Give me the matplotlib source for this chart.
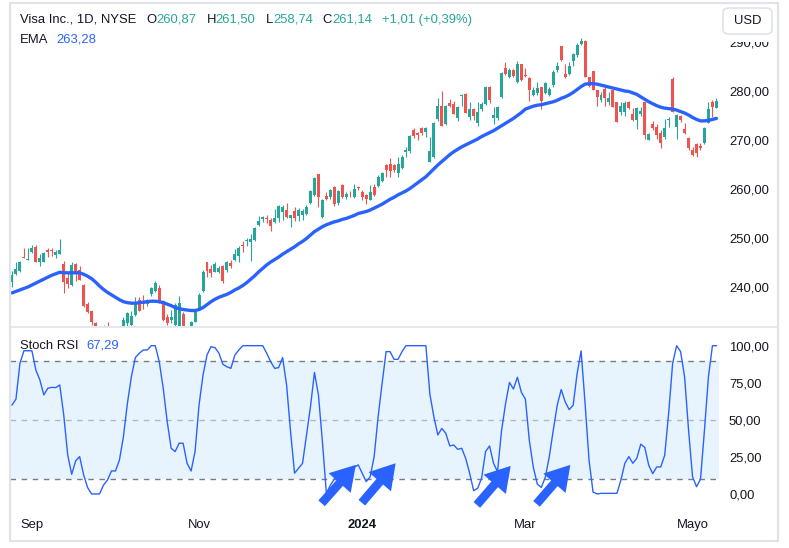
import matplotlib
matplotlib.use("Agg")
import matplotlib.pyplot as plt
from matplotlib.lines import Line2D
from matplotlib.patches import FancyArrowPatch, FancyBboxPatch, Rectangle
from matplotlib.ticker import FuncFormatter

plt.rcParams['font.family'] = ['Liberation Sans', 'DejaVu Sans']

# Visa daily candles, 2023-08-25 .. 2024-05-09 (trading-day index)
opens = [
    241.1, 242.6, 243.2, 246.2, 245.6, 247.2, 248.2, 245.0, 245.2, 247.6,
    247.5, 246.5, 246.8, 244.6, 241.8, 240.4, 244.6, 243.5, 240.5, 236.5,
    235.1, 232.6, 230.5, 229.5, 232.0, 230.3, 229.0, 229.8, 231.9, 232.6,
    232.2, 234.3, 237.3, 236.9, 236.5, 238.6, 239.2, 239.7, 237.2, 233.9,
    233.3, 232.2, 231.9, 234.4, 231.8, 231.9, 232.9, 235.6, 239.2, 245.0,
    243.6, 243.1, 243.0, 244.2, 243.5, 244.8, 245.5, 246.3, 248.6, 249.3,
    249.2, 249.6, 252.7, 253.9, 254.1, 253.7, 253.3, 254.0, 255.4, 255.7,
    254.0, 255.5, 254.5, 254.7, 254.8, 257.1, 258.8, 263.1, 254.2, 258.6,
    258.3, 260.5, 257.1, 260.8, 258.3, 259.0, 258.3, 260.4, 259.4, 258.8,
    257.8, 260.5, 260.6, 261.7, 264.9, 265.2, 264.9, 263.2, 264.2, 267.6,
    267.8, 272.0, 271.5, 272.5, 271.7, 265.6, 266.6, 274.2, 276.9, 273.2,
    277.6, 277.3, 274.4, 279.0, 279.4, 274.6, 276.3, 273.5, 276.3, 277.3,
    280.9, 274.4, 274.4, 278.8, 284.6, 282.8, 284.2, 281.9, 285.5, 283.2,
    282.7, 279.2, 279.5, 280.9, 279.5, 279.2, 281.2, 284.3, 289.1, 283.4,
    283.5, 286.2, 287.4, 289.6, 290.3, 282.9, 284.1, 280.2, 278.2, 280.5,
    277.8, 280.3, 277.8, 275.8, 275.8, 277.8, 275.4, 274.1, 275.3, 277.8,
    270.1, 273.3, 272.7, 271.5, 270.7, 274.0, 282.4, 272.7, 274.9, 272.2,
    270.5, 268.0, 269.2, 268.8, 269.3, 273.5, 277.8, 276.5,
]
highs = [
    243.3, 245.0, 245.4, 247.9, 247.9, 248.6, 248.6, 246.8, 247.2, 247.9,
    248.0, 247.5, 249.8, 245.3, 242.8, 245.0, 244.9, 244.2, 240.6, 237.0,
    235.2, 232.9, 231.4, 232.2, 232.8, 231.0, 231.2, 231.8, 233.8, 234.8,
    235.0, 237.9, 238.0, 238.3, 237.6, 240.1, 241.3, 240.4, 237.4, 234.5,
    235.3, 236.7, 238.2, 234.8, 232.0, 233.1, 235.3, 238.8, 243.5, 245.2,
    244.5, 245.0, 244.2, 244.5, 245.3, 245.5, 247.7, 248.4, 249.3, 250.0,
    250.8, 252.3, 254.4, 254.5, 254.7, 254.0, 255.9, 256.7, 256.7, 257.1,
    254.7, 256.4, 256.1, 255.9, 256.7, 259.7, 262.4, 263.1, 258.0, 259.3,
    260.1, 260.6, 259.7, 261.0, 259.3, 259.5, 261.0, 260.6, 259.7, 259.0,
    260.8, 261.1, 262.8, 263.5, 265.1, 266.3, 265.1, 266.6, 266.9, 268.6,
    271.0, 272.4, 271.7, 272.7, 272.6, 270.7, 273.6, 278.5, 279.9, 277.1,
    278.3, 278.0, 276.9, 279.4, 279.6, 277.8, 276.5, 277.8, 277.8, 281.1,
    281.0, 276.8, 276.9, 283.9, 286.0, 284.6, 284.4, 286.2, 285.6, 284.6,
    282.9, 280.9, 281.9, 280.9, 281.8, 280.9, 284.3, 286.0, 289.2, 285.6,
    285.9, 287.8, 289.7, 290.75, 290.4, 282.9, 284.1, 280.3, 279.7, 280.9,
    279.7, 280.5, 277.8, 277.8, 278.0, 278.0, 276.5, 276.7, 276.8, 277.8,
    271.5, 273.9, 273.3, 272.0, 274.2, 274.6, 282.9, 275.4, 275.1, 273.4,
    270.7, 268.5, 269.3, 269.3, 272.7, 277.8, 278.1, 278.5,
]
lows = [
    240.1, 242.5, 243.0, 245.9, 245.5, 246.9, 245.0, 244.2, 245.0, 246.1,
    246.3, 245.9, 246.7, 238.7, 239.7, 240.3, 241.2, 241.5, 236.0, 234.6,
    232.2, 229.8, 229.0, 229.1, 229.8, 228.5, 228.6, 229.4, 231.5, 232.0,
    231.9, 234.0, 235.0, 235.6, 236.1, 238.2, 239.0, 236.8, 233.1, 232.2,
    232.6, 231.9, 231.8, 231.5, 230.0, 231.5, 232.8, 235.4, 239.0, 242.1,
    242.0, 243.0, 242.8, 240.9, 243.1, 243.8, 245.3, 245.2, 247.2, 248.4,
    245.4, 249.4, 252.4, 253.3, 253.0, 251.5, 253.1, 253.3, 253.7, 254.0,
    252.2, 253.5, 253.5, 253.7, 254.7, 257.0, 258.6, 256.3, 254.0, 257.8,
    257.9, 256.6, 256.7, 258.1, 258.0, 258.4, 258.1, 259.8, 257.8, 257.0,
    257.8, 258.6, 260.4, 261.5, 262.5, 262.4, 263.5, 262.4, 264.0, 266.5,
    267.3, 270.5, 269.9, 271.0, 270.7, 265.6, 266.4, 273.9, 272.9, 273.0,
    276.7, 275.3, 273.9, 276.9, 275.6, 274.1, 274.1, 272.9, 276.0, 277.1,
    277.6, 273.3, 274.1, 278.6, 283.2, 282.6, 282.8, 281.7, 282.1, 282.8,
    278.0, 279.0, 279.2, 276.3, 279.3, 279.0, 280.9, 283.9, 286.2, 282.6,
    283.3, 285.1, 287.0, 289.4, 282.9, 280.9, 280.2, 277.0, 277.8, 276.9,
    277.1, 276.7, 273.7, 275.1, 274.9, 276.3, 273.9, 272.2, 274.9, 270.3,
    270.0, 272.1, 270.3, 268.3, 270.3, 272.7, 275.8, 270.3, 273.7, 271.2,
    268.0, 266.7, 266.5, 267.9, 269.2, 273.4, 274.6, 276.5,
]
closes = [
    242.4, 243.6, 245.2, 246.0, 245.8, 248.0, 245.0, 246.0, 246.9, 247.1,
    247.3, 247.1, 247.6, 241.1, 240.7, 244.5, 243.0, 241.5, 236.2, 234.8,
    232.9, 230.4, 229.6, 230.8, 230.2, 228.9, 229.9, 231.0, 233.3, 234.6,
    234.0, 236.7, 235.2, 236.5, 237.3, 239.7, 240.9, 237.0, 233.3, 232.7,
    233.9, 236.3, 236.7, 231.9, 230.6, 232.9, 235.0, 238.4, 243.1, 243.3,
    242.8, 244.7, 243.8, 241.3, 245.1, 244.3, 246.7, 248.0, 248.3, 249.5,
    249.7, 252.0, 253.5, 254.2, 253.8, 252.5, 254.0, 256.5, 256.4, 254.2,
    254.6, 254.0, 255.7, 255.5, 256.4, 259.5, 262.2, 258.4, 257.8, 257.9,
    259.8, 256.9, 259.5, 258.4, 259.0, 258.9, 260.1, 260.2, 258.4, 257.9,
    259.4, 258.8, 262.5, 263.3, 263.9, 263.7, 263.9, 265.1, 266.6, 267.9,
    270.8, 270.8, 271.0, 271.4, 272.4, 267.8, 273.4, 276.9, 272.9, 276.9,
    276.9, 275.4, 276.7, 279.2, 275.6, 276.3, 274.8, 275.8, 277.3, 280.9,
    278.2, 275.1, 276.8, 283.7, 283.4, 284.2, 283.0, 285.5, 282.3, 283.0,
    280.3, 280.3, 280.7, 278.0, 281.6, 280.5, 283.9, 285.1, 286.3, 282.9,
    285.0, 287.5, 289.4, 290.3, 282.9, 281.0, 280.2, 278.8, 279.2, 278.5,
    278.5, 276.8, 273.7, 276.9, 277.6, 276.5, 274.1, 276.5, 276.0, 271.0,
    271.2, 272.4, 271.0, 269.3, 272.4, 274.2, 275.8, 275.1, 274.1, 271.4,
    268.3, 266.9, 267.4, 268.3, 272.4, 276.3, 276.7, 278.0,
]
ema = [
    238.8, 239.1, 239.4, 239.7, 240.0, 240.4, 240.8, 241.2, 241.6, 242.0,
    242.4, 242.7, 243.0, 242.9, 242.9, 242.9, 242.9, 242.9, 242.6, 242.2,
    241.7, 241.0, 240.2, 239.5, 238.9, 238.4, 237.9, 237.4, 237.0, 236.8,
    236.7, 236.7, 236.8, 236.9, 237.0, 237.1, 237.1, 237.0, 236.8, 236.5,
    236.2, 235.8, 235.6, 235.4, 235.3, 235.2, 235.2, 235.4, 235.8, 236.4,
    237.0, 237.5, 237.9, 238.2, 238.5, 238.9, 239.4, 239.8, 240.3, 240.9,
    241.6, 242.3, 243.1, 243.8, 244.5, 245.1, 245.6, 246.1, 246.7, 247.2,
    247.7, 248.2, 248.8, 249.3, 249.9, 250.6, 251.3, 251.8, 252.3, 252.7,
    253.0, 253.3, 253.5, 253.8, 254.0, 254.3, 254.6, 255.0, 255.2, 255.4,
    255.7, 256.1, 256.5, 256.9, 257.4, 257.9, 258.3, 258.8, 259.2, 259.6,
    260.1, 260.7, 261.3, 261.9, 262.5, 263.3, 264.1, 264.9, 265.6, 266.3,
    267.0, 267.6, 268.1, 268.6, 269.0, 269.4, 269.8, 270.2, 270.7, 271.1,
    271.5, 271.9, 272.4, 272.9, 273.4, 273.9, 274.4, 275.0, 275.6, 276.3,
    276.6, 276.9, 277.1, 277.2, 277.4, 277.6, 277.8, 278.1, 278.5, 278.8,
    279.2, 279.7, 280.3, 280.9, 281.4, 281.5, 281.5, 281.4, 281.2, 281.0,
    280.8, 280.6, 280.4, 280.2, 280.0, 279.9, 279.6, 279.3, 278.8, 278.3,
    277.8, 277.4, 277.0, 276.7, 276.5, 276.4, 276.3, 276.1, 275.8, 275.5,
    275.1, 274.6, 274.2, 273.9, 273.9, 274.0, 274.2, 274.4,
]
stoch = [
    60.0, 64.0, 88.1, 96.6, 96.6, 96.6, 83.6, 76.9, 66.8, 71.3,
    71.9, 71.7, 73.5, 53.3, 26.3, 13.3, 22.3, 25.2, 12.9, 4.3,
    0.0, 0.0, 0.0, 6.0, 9.4, 15.5, 15.5, 22.9, 38.6, 61.1,
    79.1, 92.0, 94.9, 97.1, 97.1, 100.0, 100.0, 89.2, 71.3, 48.8,
    30.8, 28.6, 34.2, 34.2, 20.6, 15.5, 28.6, 60.0, 80.2, 93.7,
    99.3, 98.7, 94.9, 87.4, 85.8, 84.7, 93.7, 97.1, 100.0, 100.0,
    100.0, 100.0, 100.0, 100.0, 94.9, 89.2, 84.7, 85.2, 92.0, 73.5,
    41.9, 14.0, 17.3, 20.6, 39.8, 58.8, 82.0, 66.8, 35.3, 0.4,
    5.9, 10.0, 12.0, 13.0, 14.0, 16.0, 18.0, 19.6, 14.0, 8.3,
    11.6, 25.2, 52.1, 74.6, 96.0, 96.0, 90.8, 90.8, 96.0, 100.0,
    100.0, 100.0, 100.0, 100.0, 100.0, 67.3, 52.1, 39.8, 44.2, 40.9,
    32.4, 33.0, 30.1, 30.8, 24.0, 13.9, 2.2, 3.8, 10.6, 28.6,
    32.4, 20.7, 15.0, 42.5, 60.6, 75.2, 70.8, 78.7, 68.5, 64.0,
    35.9, 17.9, 6.6, 4.4, 11.2, 25.0, 42.9, 59.8, 70.4, 62.1,
    56.9, 59.8, 81.2, 96.5, 61.0, 22.6, 1.3, 0.0, 0.4, 0.4,
    0.4, 0.4, 0.4, 9.4, 20.7, 25.2, 20.7, 24.1, 33.6, 31.4,
    19.3, 13.7, 18.2, 18.2, 26.0, 54.4, 88.1, 100.0, 96.0, 79.1,
    43.1, 11.6, 4.9, 9.9, 43.1, 79.1, 100.0, 100.0,
]
# first trading day of each labelled month (index into the candles)
month_idx = [5, 47, 88, 129, 171]
month_lbl = ['Sep', 'Nov', '2024', 'Mar', 'Mayo']
# hand-drawn arrows on the Stoch RSI pane: (x0, y0, x1, y1)
arrows = [(77.8, -6.3, 86.4, 19.6), (87.9, -5.9, 96.4, 20.7),
          (116.8, -7.4, 125.3, 18.9), (131.8, -6.7, 140.3, 19.6)]

GREEN, RED, BLUE = '#26a69a', '#ef5350', '#2962ff'
DARK, GRID = '#131722', '#e0e3eb'
W, H = 789, 548
FS = 9.4


def fx(px):
    return px / W


def fy(py):
    return 1 - py / H


fig = plt.figure(figsize=(W / 100, H / 100), dpi=100)
xmin, xmax = -0.5, 177.65

# price pane
ax1 = fig.add_axes([fx(10), fy(326), (719 - 10) / W, (326 - 7) / H])
n = len(closes)
idx = list(range(n))
cols = [GREEN if c >= o else RED for o, c in zip(opens, closes)]
bottoms = [min(o, c) for o, c in zip(opens, closes)]
heights = [max(abs(c - o), 0.15) for o, c in zip(opens, closes)]
ax1.vlines(idx, lows, highs, colors=cols, lw=0.8)
ax1.bar(idx, heights, bottom=bottoms, width=0.75, color=cols, lw=0)
ax1.plot(idx, ema, color=BLUE, lw=2.4, solid_capstyle='round')
ax1.set_xlim(xmin, xmax)
ax1.set_ylim(232.04, 297.14)
ax1.set_yticks([240, 250, 260, 270, 280, 290])

# stoch rsi pane
ax2 = fig.add_axes([fx(10), fy(511), (719 - 10) / W, (511 - 327) / H])
ax2.fill_between([xmin, xmax], 10, 90, color='#2196f3', alpha=0.1, lw=0)
for lvl, a in [(90, 1.0), (50, 0.5), (10, 1.0)]:
    ax2.axhline(lvl, color='#787b86', lw=1, ls=(0, (4, 4)), alpha=a)
ax2.plot(idx, stoch, color=BLUE, lw=1.0)
ax2.set_xlim(xmin, xmax)
ax2.set_ylim(-11.5, 112.6)
ax2.set_yticks([0, 25, 50, 75, 100])
ax2.set_xticks(month_idx)
ax2.set_xticklabels(month_lbl)
ax2.get_xticklabels()[2].set_fontweight('bold')

for x0, y0, x1, y1 in arrows:
    ax2.add_patch(FancyArrowPatch((x0, y0), (x1, y1),
                                  arrowstyle='simple,head_length=1.4,head_width=1.7,tail_width=0.5',
                                  mutation_scale=12.5, color=BLUE, lw=0,
                                  shrinkA=0, shrinkB=0, zorder=5))

fmt = FuncFormatter(lambda v, pos: f'{v:.2f}'.replace('.', ','))
for ax in (ax1, ax2):
    for s in ax.spines.values():
        s.set_visible(False)
    ax.yaxis.tick_right()
    ax.yaxis.set_major_formatter(fmt)
    ax.tick_params(axis='y', length=0, pad=7.2, labelsize=FS, labelcolor=DARK)
    ax.tick_params(axis='x', length=0, pad=6, labelsize=FS, labelcolor=DARK)
ax1.tick_params(axis='x', labelbottom=False)

# frame and pane separator
fig.add_artist(Line2D([fx(10), fx(778)], [fy(326.5), fy(326.5)], color=GRID, lw=1.2))
fig.add_artist(Rectangle((fx(10), fy(541)), (778 - 10) / W, (541 - 3) / H,
                         fill=False, ec=GRID, lw=1.5))

# USD button over the top of the price scale (hides upper half of 290,00)
fig.add_artist(Rectangle((fx(721), fy(41.5)), (776 - 721) / W, 37 / H,
                         fc='white', ec='none', zorder=5))
fig.add_artist(FancyBboxPatch((fx(723), fy(34)), (772 - 723) / W, (34 - 8) / H,
                              boxstyle='round,pad=0,rounding_size=0.008',
                              fc='white', ec=GRID, lw=1.2, zorder=6))
fig.text(fx(747.5), fy(21), 'USD', fontsize=FS, color=DARK,
         ha='center', va='center', zorder=7)

renderer = fig.canvas.get_renderer()


def text_row(x, y, pieces):
    for s, color, gap in pieces:
        t = fig.text(fx(x), fy(y), s, fontsize=FS, color=color, ha='left', va='center')
        x += t.get_window_extent(renderer).width + gap


text_row(20, 20, [('Visa Inc., 1D, NYSE', DARK, 10),
                  ('O', DARK, 0), ('260,87', GREEN, 10),
                  ('H', DARK, 0), ('261,50', GREEN, 10),
                  ('L', DARK, 0), ('258,74', GREEN, 10),
                  ('C', DARK, 0), ('261,14', GREEN, 10),
                  ('+1,01 (+0,39%)', GREEN, 0)])
text_row(20, 40, [('EMA', DARK, 8), ('263,28', BLUE, 0)])
text_row(20, 346, [('Stoch RSI', DARK, 8), ('67,29', BLUE, 0)])

fig.savefig('out.png', dpi=100, facecolor='white')
